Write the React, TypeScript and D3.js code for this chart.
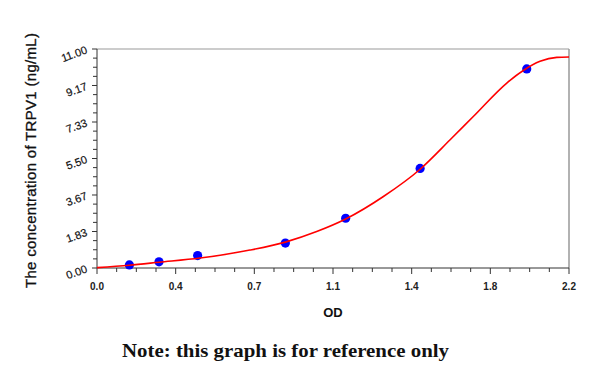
import React from "react";
import * as d3 from "d3";

const pointOD = [0.151, 0.289, 0.469, 0.878, 1.159, 1.506, 2.003];
const pointConc = [0.156, 0.3125, 0.625, 1.25, 2.5, 5, 10];

const curveOD = [0, 0.15, 0.29, 0.48, 0.713, 0.878, 1.024, 1.159, 1.335, 1.506, 1.646, 1.754, 1.91, 1.987, 2.065, 2.143, 2.2];
const curveConc = [0.02, 0.14, 0.29, 0.5, 0.9, 1.3, 1.83, 2.46, 3.59, 4.96, 6.44, 7.61, 9.29, 9.92, 10.38, 10.58, 10.6];

const xTickValues = [0, 0.3667, 0.7333, 1.1, 1.4667, 1.8333, 2.2];
const xTickLabels = ["0.0", "0.4", "0.7", "1.1", "1.4", "1.8", "2.2"];
const yTickValues = [0, 1.8333, 3.6667, 5.5, 7.3333, 9.1667, 11];
const yTickLabels = ["0.00", "1.83", "3.67", "5.50", "7.33", "9.17", "11.00"];

export default function App() {
  const left = 97, right = 569, top = 49, bottom = 268;
  const x = d3.scaleLinear().domain([0, 2.2]).range([left, right]);
  const y = d3.scaleLinear().domain([0, 11]).range([bottom, top]);

  const line = d3
    .line<number>()
    .x((_, i) => x(curveOD[i]))
    .y((d) => y(d))
    .curve(d3.curveMonotoneX);

  const xMinor: number[] = [];
  for (let i = 0; i < xTickValues.length - 1; i++) {
    const a = xTickValues[i], b = xTickValues[i + 1];
    for (let k = 1; k < 4; k++) xMinor.push(a + ((b - a) * k) / 4);
  }
  const yMinor: number[] = [];
  for (let i = 0; i < yTickValues.length - 1; i++) {
    const a = yTickValues[i], b = yTickValues[i + 1];
    for (let k = 1; k < 4; k++) yMinor.push(a + ((b - a) * k) / 4);
  }

  const axisColor = "#333";
  return (
    <svg width={600} height={368} style={{ position: "absolute", left: 0, top: 0, background: "#fff" }} fontFamily="Liberation Sans, Arial, sans-serif">
      {/* frame */}
      <line x1={left} y1={top} x2={right} y2={top} stroke="#999" strokeWidth={1.2} />
      <line x1={right} y1={top} x2={right} y2={bottom} stroke="#999" strokeWidth={1.5} />
      <line x1={left} y1={top} x2={left} y2={bottom} stroke={axisColor} strokeWidth={1} />
      <line x1={left} y1={bottom} x2={right} y2={bottom} stroke={axisColor} strokeWidth={1} />
      {/* x ticks */}
      {xTickValues.map((v, i) => (
        <g key={"xt" + i}>
          <line x1={x(v)} x2={x(v)} y1={bottom} y2={bottom + 6} stroke={axisColor} />
          <text x={x(v)} y={290} textAnchor="middle" fontSize={10} fontWeight="bold" fill="#222">
            {xTickLabels[i]}
          </text>
        </g>
      ))}
      {xMinor.map((v, i) => (
        <line key={"xm" + i} x1={x(v)} x2={x(v)} y1={bottom} y2={bottom + 4} stroke={axisColor} />
      ))}
      {/* y ticks */}
      {yTickValues.map((v, i) => (
        <g key={"yt" + i}>
          <line x1={left - 5} x2={left} y1={y(v)} y2={y(v)} stroke={axisColor} />
          <text
            x={88}
            y={y(v) + 4}
            textAnchor="end"
            fontSize={11}
            fill="#111"
            stroke="#111"
            strokeWidth={0.2}
            transform={`rotate(-20 88 ${y(v) + 4})`}
          >
            {yTickLabels[i]}
          </text>
        </g>
      ))}
      {yMinor.map((v, i) => (
        <line key={"ym" + i} x1={left - 4} x2={left} y1={y(v)} y2={y(v)} stroke={axisColor} />
      ))}
      {/* points */}
      {pointOD.map((v, i) => (
        <circle key={"p" + i} cx={x(v)} cy={y(pointConc[i])} r={4.6} fill="#0000ff" />
      ))}
      {/* fitted curve */}
      <path d={line(curveConc) || ""} fill="none" stroke="#ff0000" strokeWidth={1.6} />
      {/* axis titles */}
      <text x={333} y={317} textAnchor="middle" fontSize={13} fontWeight="bold" fill="#111">
        OD
      </text>
      <text
        x={0}
        y={0}
        transform="translate(35.5 160.5) rotate(-90)"
        textAnchor="middle"
        fontSize={15}
        textLength={255}
        lengthAdjust="spacing"
        fill="#111"
        stroke="#111"
        strokeWidth={0.3}
      >
        The concentration of  TRPV1 (ng/mL)
      </text>
      <text
        x={122}
        y={357}
        fontFamily="Liberation Serif, Times New Roman, serif"
        fontSize={19.5}
        fontWeight="bold"
        textLength={327}
        lengthAdjust="spacingAndGlyphs"
        fill="#111"
      >
        Note: this graph is for reference only
      </text>
    </svg>
  );
}
